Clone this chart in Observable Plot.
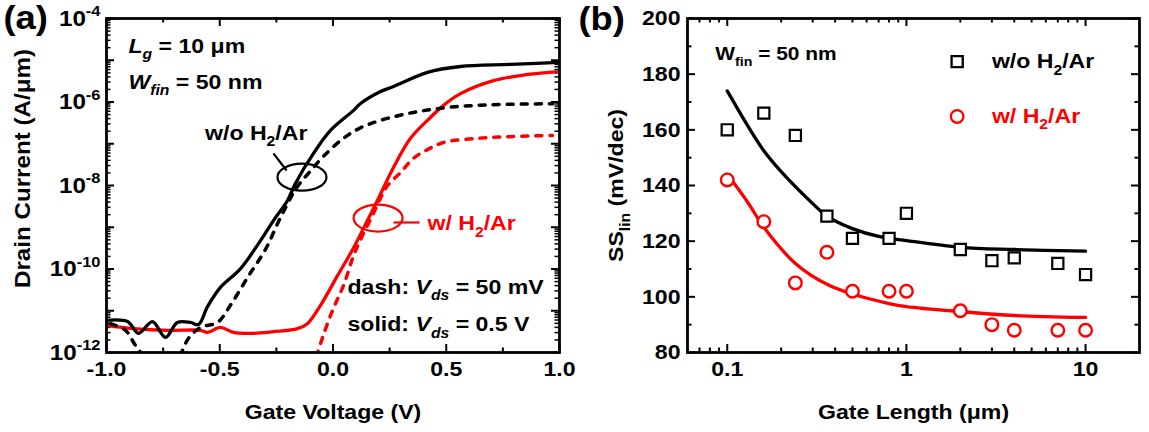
<!DOCTYPE html>
<html><head><meta charset="utf-8">
<script src="https://cdn.jsdelivr.net/npm/d3@7"></script>
<script src="https://cdn.jsdelivr.net/npm/@observablehq/plot@0.6"></script>
<style>
html,body{margin:0;padding:0;background:#fff;}
#wrap{position:relative;width:1149px;height:432px;overflow:hidden;background:#fff;}
#wrap svg{position:absolute;top:0;}
</style></head><body><div id="wrap"></div>
<script>
// ================= DATA =================
// Panel (a): transfer curves, gate voltage (V) vs log10 drain current (A/um)
const vgWoSolid = [-1.0,-0.907,-0.859,-0.797,-0.740,-0.687,-0.629,-0.594,-0.554,-0.497,-0.408,-0.320,-0.263,-0.201,-0.166,-0.086,-0.011,0.091,0.121,0.210,0.267,0.417,0.563,0.784,1.0];
const logIdWoSolid = [-11.23,-11.26,-11.54,-11.26,-11.64,-11.28,-11.28,-11.33,-10.90,-10.44,-9.99,-9.32,-8.84,-8.36,-7.95,-7.23,-6.68,-6.20,-6.04,-5.75,-5.63,-5.29,-5.15,-5.10,-5.05];

const vgWoDash = [-0.982,-0.916,-0.872,-0.828,-0.762,-0.682,-0.638,-0.585,-0.510,-0.453,-0.377,-0.298,-0.232,-0.160,-0.099,-0.042,0.046,0.121,0.210,0.355,0.506,0.682,0.970];
const logIdWoDash = [-11.31,-11.47,-11.83,-12.10,-12.14,-12.07,-11.66,-11.40,-11.28,-10.87,-10.20,-9.53,-8.77,-8.05,-7.65,-7.30,-6.87,-6.62,-6.44,-6.25,-6.13,-6.07,-6.04];

const vgWSolid = [-1.0,-0.881,-0.731,-0.585,-0.554,-0.497,-0.439,-0.351,-0.263,-0.157,-0.113,-0.055,0.020,0.091,0.152,0.196,0.267,0.342,0.417,0.488,0.563,0.709,0.859,1.0];
const logIdWSolid = [-11.35,-11.43,-11.47,-11.47,-11.52,-11.40,-11.52,-11.54,-11.50,-11.43,-11.31,-10.87,-10.16,-9.49,-8.84,-8.36,-7.57,-6.87,-6.44,-6.08,-5.80,-5.49,-5.34,-5.27];

const vgWDash = [-0.073,-0.046,-0.002,0.046,0.091,0.130,0.174,0.210,0.241,0.298,0.355,0.417,0.488,0.638,0.784,0.969];
const logIdWDash = [-12.10,-11.64,-10.99,-10.40,-9.68,-9.20,-8.72,-8.30,-8.00,-7.69,-7.35,-7.14,-6.97,-6.87,-6.83,-6.80];

const vgTicksMajor = [-1, -0.5, 0, 0.5, 1];
const vgTicksMinor = [-0.75, -0.25, 0.25, 0.75];
const vgTickLabels = ["-1.0", "-0.5", "0.0", "0.5", "1.0"];
const idDecadeTicks = [1e-12,1e-11,1e-10,1e-9,1e-8,1e-7,1e-6,1e-5,1e-4];
const idLabelTicks = [1e-12,1e-10,1e-8,1e-6,1e-4];
const idLabelExps = ["-12","-10","-8","-6","-4"];
const minorMultipliers = [2,3,4,5,6,7,8,9];

const titleAX = "Gate Voltage (V)";
const titleAY = "Drain Current (A/μm)";
// annotations (a): x in V, y as log10 current
const annotA = [
  {x:-0.903, y:-4.67, text:"*L*_{*g*} = 10 μm", color:"black"},
  {x:-0.903, y:-5.53, text:"*W*_{*fin*} = 50 nm", color:"black"},
  {x:-0.565, y:-6.75, text:"w/o H_{2}/Ar", color:"black"},
  {x:0.417, y:-8.91, text:"w/ H_{2}/Ar", color:"red"},
  {x:0.064, y:-10.44, text:"dash: *V*_{*ds*} = 50 mV", color:"black"},
  {x:0.064, y:-11.33, text:"solid: *V*_{*ds*} = 0.5 V", color:"black"}
];
const ellipsesA = [
  {x:-0.137, y:-7.80, color:"black"},
  {x:0.199, y:-8.78, color:"red"}
];
const leadersA = [
  {x1:-0.263, y1:-7.23, x2:-0.205, y2:-7.64, color:"black"},
  {x1:0.267, y1:-8.886, x2:0.382, y2:-8.886, color:"red"}
];

// Panel (b): SS_lin vs gate length
const gateLength = [0.1,0.16,0.24,0.36,0.5,0.8,1,2,3,4,7,10];
const ssWo = [160,166,158,129,121,121,130,117,113,114,112,108];
const ssW = [142,127,105,116,102,102,102,95,90,88,88,88];
const fitWoL = [0.1,0.13,0.16,0.2,0.3,0.36,0.5,0.7,1,2,4,10];
const fitWoSS = [174,161.5,152.5,145,133.5,129,124.5,121.7,120.2,117.8,117,116.4];
const fitWL = [0.1,0.13,0.16,0.24,0.36,0.5,0.8,1,2,4,10];
const fitWSS = [144,134,125,112,104.5,101,97.6,96.5,94.7,93.3,92.6];

const lgTicksMajor = [0.1, 1, 10];
const lgTickLabels = ["0.1", "1", "10"];
const lgTicksMinor = [0.07,0.08,0.09,0.2,0.3,0.4,0.5,0.6,0.7,0.8,0.9,2,3,4,5,6,7,8,9];
const ssTicksMajor = [80,100,120,140,160,180,200];
const ssTicksMinor = [90,110,130,150,170,190];
const titleBX = "Gate Length (μm)";
const titleBY = "SS_{lin} (mV/dec)";
const annotB = [{x:0.0858, y:187.1, text:"W_{fin} = 50 nm"}];
const legendB = [
  {x:1.92, y:184.5, tx:3.0, label:"w/o H_{2}/Ar", symbol:"square", color:"black"},
  {x:1.92, y:164.8, tx:3.0, label:"w/ H_{2}/Ar", symbol:"circle", color:"red"}
];

// ================= HELPERS =================
const FONT = "'Liberation Sans', Arial, Helvetica, sans-serif";
const STRETCH = 1.1;
const MAJ = 8, MIN = 4.5;
const ellipseSymbol = (rx, ry) => ({
  draw(ctx) {
    const k = 0.5523;
    ctx.moveTo(rx, 0);
    ctx.bezierCurveTo(rx, ry*k, rx*k, ry, 0, ry);
    ctx.bezierCurveTo(-rx*k, ry, -rx, ry*k, -rx, 0);
    ctx.bezierCurveTo(-rx, -ry*k, -rx*k, -ry, 0, -ry);
    ctx.bezierCurveTo(rx*k, -ry, rx, -ry*k, rx, 0);
    ctx.closePath();
  }
});
const rowsLog = (xs, ls) => xs.map((x, i) => ({x, y: 10 ** ls[i]}));
const rows = (xs, ys) => xs.map((x, i) => ({x, y: ys[i]}));

function parseMarkup(s) {
  const out = []; let i = 0, italic = false, shift = 0, buf = "";
  const flush = () => { if (buf) { out.push({t: buf, italic, shift}); buf = ""; } };
  while (i < s.length) {
    const c = s[i];
    if ((c === "^" || c === "_") && s[i+1] === "{") { flush(); shift = c === "^" ? 1 : -1; i += 2; continue; }
    if (c === "}" && shift !== 0) { flush(); shift = 0; i++; continue; }
    if (c === "*") { flush(); italic = !italic; i++; continue; }
    buf += c; i++;
  }
  flush(); return out;
}
function postProcess(svg) {
  const ns = "http://www.w3.org/2000/svg";
  svg.querySelectorAll("text").forEach(t => {
    const s = t.textContent;
    if (/[\^_]\{|\*/.test(s)) {
      const fs = parseFloat(getComputedStyle(t).fontSize) || 20;
      const segs = parseMarkup(s);
      while (t.firstChild) t.removeChild(t.firstChild);
      let cur = 0;
      for (const sg of segs) {
        const ts = document.createElementNS(ns, "tspan");
        const target = sg.shift === 1 ? -0.42*fs : sg.shift === -1 ? 0.3*fs : 0;
        const dy = target - cur;
        if (dy) ts.setAttribute("dy", dy.toFixed(2));
        cur = target;
        if (sg.shift) ts.setAttribute("font-size", (0.68*fs).toFixed(2));
        if (sg.italic) ts.setAttribute("font-style", "italic");
        ts.textContent = sg.t;
        t.appendChild(ts);
      }
    }
    const tr = t.getAttribute("transform");
    if (tr) t.setAttribute("transform", tr + ` scale(${STRETCH},1)`);
  });
}
function minorLogTicks(decades) {
  const out = [];
  for (const d of decades.slice(0, -1)) for (const m of minorMultipliers) out.push(d * m);
  return out;
}

// ================= PANEL (a) =================
const A = {width:575, height:432, left:106, right:16, top:18, bottom:80};
const fhA = A.height - A.top - A.bottom, fwA = A.width - A.left - A.right;
const xTicks = (vals, len, w) => [
  Plot.ruleX(vals, {x: d => d, insetTop: fhA - len, strokeWidth: w}),
  Plot.ruleX(vals, {x: d => d, insetBottom: fhA - len, strokeWidth: w})
];
const yTicksA = (vals, len, w) => [
  Plot.ruleY(vals, {y: d => d, insetRight: fwA - len, strokeWidth: w}),
  Plot.ruleY(vals, {y: d => d, insetLeft: fwA - len, strokeWidth: w})
];
const ellRows = ellipsesA.map(e => ({...e, y: 10 ** e.y}));
const leadRows = leadersA.map(e => ({...e, y1: 10 ** e.y1, y2: 10 ** e.y2}));
const annRowsA = annotA.map(e => ({...e, y: 10 ** e.y}));

const plotA = Plot.plot({
  width: A.width, height: A.height,
  marginLeft: A.left, marginRight: A.right, marginTop: A.top, marginBottom: A.bottom,
  x: {domain: [-1, 1]},
  y: {type: "log", domain: [1e-12, 1e-4]},
  style: {fontFamily: FONT, fontWeight: "bold", fontSize: "21px", background: "transparent", overflow: "visible", color: "black"},
  marks: [
    ...xTicks(vgTicksMajor, MAJ, 2),
    ...xTicks(vgTicksMinor, MIN, 2),
    ...yTicksA(idDecadeTicks, MAJ, 2),
    ...yTicksA(minorLogTicks(idDecadeTicks), MIN, 1.5),
    Plot.axisX({ticks: vgTicksMajor, tickSize: 0, tickPadding: 9, tickFormat: d => vgTickLabels[vgTicksMajor.indexOf(d)], label: null, fontSize: 21}),
    Plot.axisY({ticks: idLabelTicks, tickSize: 0, tickPadding: 6, tickFormat: d => `10^{${idLabelExps[idLabelTicks.indexOf(d)]}}`, label: null, fontSize: 22}),
    Plot.line(rowsLog(vgWSolid, logIdWSolid), {x: "x", y: "y", stroke: "#ff0000", strokeWidth: 3.3, curve: "catmull-rom", clip: true}),
    Plot.line(rowsLog(vgWDash, logIdWDash), {x: "x", y: "y", stroke: "#ff0000", strokeWidth: 3.5, strokeDasharray: "6,8", curve: "catmull-rom", clip: true}),
    Plot.line(rowsLog(vgWoSolid, logIdWoSolid), {x: "x", y: "y", stroke: "black", strokeWidth: 3.3, curve: "catmull-rom", clip: true}),
    Plot.line(rowsLog(vgWoDash, logIdWoDash), {x: "x", y: "y", stroke: "black", strokeWidth: 3.5, strokeDasharray: "6,8", curve: "catmull-rom", clip: true}),
    Plot.dot(ellRows, {x: "x", y: "y", stroke: "color", strokeWidth: 2.2, fill: "none", r: 5, symbol: ellipseSymbol(24.5, 13.5)}),
    Plot.link(leadRows, {x1: "x1", y1: "y1", x2: "x2", y2: "y2", stroke: "color", strokeWidth: 2.2}),
    Plot.text(annRowsA, {x: "x", y: "y", text: "text", fill: "color", textAnchor: "start", lineAnchor: "middle", fontSize: 21}),
    Plot.frame({stroke: "black", strokeWidth: 2.8}),
    Plot.text([titleAY], {text: d => d, frameAnchor: "left", dx: -84, dy: -17, rotate: -90, textAnchor: "middle", lineAnchor: "middle", fontSize: 22}),
    Plot.text([titleAX], {text: d => d, frameAnchor: "bottom", dy: 60, textAnchor: "middle", lineAnchor: "middle", fontSize: 21}),
    Plot.text(["(a)"], {text: d => d, frameAnchor: "top-left", dx: -103, dy: -13, textAnchor: "start", lineAnchor: "top", fontSize: 33})
  ]
});

// ================= PANEL (b) =================
const B = {width:574, height:432, left:112, right:10, top:18, bottom:80};
const fhB = B.height - B.top - B.bottom, fwB = B.width - B.left - B.right;
const xTicksB = (vals, len, w) => [
  Plot.ruleX(vals, {x: d => d, insetTop: fhB - len, strokeWidth: w}),
  Plot.ruleX(vals, {x: d => d, insetBottom: fhB - len, strokeWidth: w})
];
const yTicksB = (vals, len, w) => [
  Plot.ruleY(vals, {y: d => d, insetRight: fwB - len, strokeWidth: w}),
  Plot.ruleY(vals, {y: d => d, insetLeft: fwB - len, strokeWidth: w})
];
const plotB = Plot.plot({
  width: B.width, height: B.height,
  marginLeft: B.left, marginRight: B.right, marginTop: B.top, marginBottom: B.bottom,
  x: {type: "log", domain: [0.06, 20]},
  y: {domain: [80, 200]},
  style: {fontFamily: FONT, fontWeight: "bold", fontSize: "21px", background: "transparent", overflow: "visible", color: "black"},
  marks: [
    ...xTicksB(lgTicksMajor, MAJ, 2),
    ...xTicksB(lgTicksMinor, MIN, 2),
    ...yTicksB(ssTicksMajor, MAJ, 2),
    ...yTicksB(ssTicksMinor, MIN, 2),
    Plot.axisX({ticks: lgTicksMajor, tickSize: 0, tickPadding: 9, tickFormat: d => lgTickLabels[lgTicksMajor.indexOf(d)], label: null, fontSize: 21}),
    Plot.axisY({ticks: ssTicksMajor, tickSize: 0, tickPadding: 7, tickFormat: d => String(d), label: null, fontSize: 21}),
    Plot.line(rows(fitWoL, fitWoSS), {x: "x", y: "y", stroke: "black", strokeWidth: 3.3, curve: "catmull-rom", clip: true}),
    Plot.line(rows(fitWL, fitWSS), {x: "x", y: "y", stroke: "#ff0000", strokeWidth: 3.3, curve: "catmull-rom", clip: true}),
    Plot.dot(rows(gateLength, ssWo), {x: "x", y: "y", symbol: "square", r: 6.3, stroke: "black", strokeWidth: 2.2, fill: "white"}),
    Plot.dot(rows(gateLength, ssW), {x: "x", y: "y", symbol: "circle", r: 6.3, stroke: "#ff0000", strokeWidth: 2.4, fill: "white"}),
    Plot.dot(legendB, {x: "x", y: "y", symbol: "symbol", r: 6.3, stroke: "color", strokeWidth: 2.3, fill: "white"}),
    Plot.text(legendB, {x: "tx", y: "y", text: "label", fill: "color", textAnchor: "start", lineAnchor: "middle", fontSize: 21}),
    Plot.text(annotB, {x: "x", y: "y", text: "text", textAnchor: "start", lineAnchor: "middle", fontSize: 19}),
    Plot.frame({stroke: "black", strokeWidth: 2.8}),
    Plot.text([titleBY], {text: d => d, frameAnchor: "left", dx: -71, rotate: -90, textAnchor: "middle", lineAnchor: "middle", fontSize: 21}),
    Plot.text([titleBX], {text: d => d, frameAnchor: "bottom", dy: 60, textAnchor: "middle", lineAnchor: "middle", fontSize: 21}),
    Plot.text(["(b)"], {text: d => d, frameAnchor: "top-left", dx: -109, dy: -12, textAnchor: "start", lineAnchor: "top", fontSize: 33})
  ]
});

const wrap = document.getElementById("wrap");
plotA.style.left = "0px";
plotB.style.left = "575px";
wrap.appendChild(plotA);
wrap.appendChild(plotB);
postProcess(plotA);
postProcess(plotB);
</script></body></html>
